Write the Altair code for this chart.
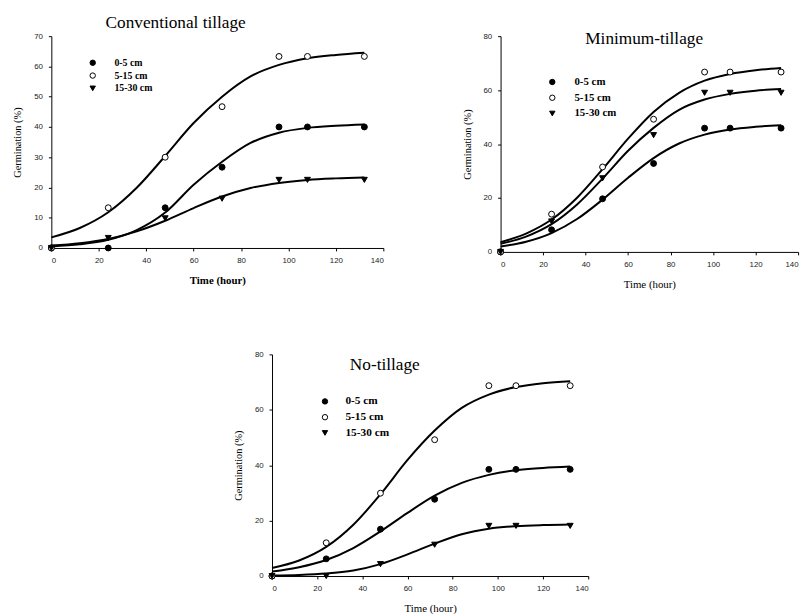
import altair as alt
import pandas as pd

# ---- data ----
depths = ["0-5 cm", "5-15 cm", "15-30 cm"]
times = [0, 24, 48, 72, 96, 108, 132]

# observed germination (%)
ct_0_5 = [0, 0, 13.3, 26.7, 40.0, 40.0, 40.0]
ct_5_15 = [0, 13.3, 30.0, 46.7, 63.3, 63.3, 63.3]
ct_15_30 = [0, 3.3, 9.8, 16.3, 22.5, 22.5, 22.5]

mt_0_5 = [0, 8.2, 19.7, 32.8, 45.9, 45.9, 45.9]
mt_5_15 = [0, 14.0, 31.5, 49.2, 66.7, 66.7, 66.7]
mt_15_30 = [0, 11.3, 27.3, 43.3, 59.0, 59.0, 59.0]

nt_0_5 = [0, 6.2, 16.9, 27.7, 38.5, 38.5, 38.5]
nt_5_15 = [0, 12.0, 29.9, 49.2, 68.7, 68.7, 68.7]
nt_15_30 = [0, 0, 4.3, 11.3, 18.1, 18.1, 18.1]

# fitted curves, read at 12-hour steps
curve_t = [0, 12, 24, 36, 48, 60, 72, 84, 96, 108, 120, 132]

ct_fit_0_5 = [0.5, 1.2, 2.7, 5.9, 11.7, 20.9, 28.5, 34.7, 38.1, 39.7, 40.4, 40.8]
ct_fit_5_15 = [3.5, 6.6, 11.8, 19.9, 30.4, 41.3, 50.0, 56.7, 60.5, 62.7, 63.8, 64.5]
ct_fit_15_30 = [0.8, 1.6, 3.0, 5.5, 9.0, 13.2, 17.0, 19.8, 21.5, 22.5, 23.0, 23.3]

mt_fit_0_5 = [2.0, 3.8, 7.0, 12.2, 19.4, 27.5, 34.8, 40.2, 43.5, 45.4, 46.4, 47.0]
mt_fit_5_15 = [3.6, 6.8, 12.0, 20.1, 30.7, 42.0, 51.9, 59.0, 63.5, 66.0, 67.4, 68.2]
mt_fit_15_30 = [3.0, 5.7, 10.3, 17.6, 27.2, 37.5, 46.0, 52.7, 56.5, 58.6, 59.8, 60.4]

nt_fit_0_5 = [1.6, 3.2, 5.8, 10.1, 16.1, 22.8, 29.0, 33.6, 36.5, 38.2, 39.0, 39.5]
nt_fit_5_15 = [2.9, 5.6, 10.5, 18.5, 29.5, 41.9, 52.5, 60.7, 65.5, 68.2, 69.6, 70.3]
nt_fit_15_30 = [0.2, 0.4, 0.9, 2.0, 4.3, 7.8, 11.7, 15.1, 17.1, 18.0, 18.4, 18.6]

titles = ["Conventional tillage", "Minimum-tillage", "No-tillage"]
x_ticks = [0, 20, 40, 60, 80, 100, 120, 140]

SERIF = "Liberation Serif"
SANS = "Liberation Sans"


def points_df(a, b, c):
    rows = []
    for d, vals in zip(depths, [a, b, c]):
        for t, v in zip(times, vals):
            rows.append({"t": t, "g": v, "depth": d})
    return pd.DataFrame(rows)


def fit_df(a, b, c):
    rows = []
    for d, vals in zip(depths, [a, b, c]):
        for t, v in zip(curve_t, vals):
            rows.append({"t": t, "g": v, "depth": d})
    return pd.DataFrame(rows)


def panel(pts, fits, title, ymax, ystep, w, h, xbold, leg, ttl):
    xs = alt.X("t:Q", scale=alt.Scale(domain=[0, 140], nice=False),
               axis=alt.Axis(values=x_ticks, title="Time (hour)",
                             titleFontWeight="bold" if xbold else "normal"))
    ys = alt.Y("g:Q", scale=alt.Scale(domain=[0, ymax], nice=False),
               axis=alt.Axis(values=list(range(0, ymax + 1, ystep)),
                             title="Germination (%)"))
    legend = alt.Legend(title=None, orient="none", legendX=leg[0], legendY=leg[1],
                        labelFont=SERIF, labelFontWeight="bold", labelFontSize=leg[2],
                        labelColor="black", symbolSize=30, rowPadding=leg[3],
                        labelOffset=leg[4], symbolStrokeWidth=1, padding=0)
    lines = alt.Chart(fits).mark_line(color="black", strokeWidth=2,
                                      interpolate="monotone").encode(
        x=xs, y=ys, detail="depth:N")
    pts_layer = alt.Chart(pts).mark_point(size=36, strokeWidth=1,
                                          opacity=1).encode(
        x=xs, y=ys,
        shape=alt.Shape("depth:N", sort=depths,
                        scale=alt.Scale(domain=depths,
                                        range=["circle", "circle", "triangle-down"]),
                        legend=legend),
        fill=alt.Fill("depth:N", sort=depths,
                      scale=alt.Scale(domain=depths, range=["black", "white", "black"]),
                      legend=legend),
        stroke=alt.Stroke("depth:N", sort=depths,
                          scale=alt.Scale(domain=depths, range=["black", "black", "black"]),
                          legend=legend),
    )
    return alt.layer(lines, pts_layer).properties(
        width=w, height=h,
        title=alt.TitleParams(title, anchor="start", frame="group", font=SERIF,
                              fontSize=17.5, fontWeight="normal", color="black",
                              offset=ttl[1], dx=ttl[0], dy=ttl[2]))


p1 = panel(points_df(ct_0_5, ct_5_15, ct_15_30),
           fit_df(ct_fit_0_5, ct_fit_5_15, ct_fit_15_30),
           titles[0], 70, 10, 337, 215, True, (37, 22, 10, 3, 17), (55, 1, 0))
p2 = panel(points_df(mt_0_5, mt_5_15, mt_15_30),
           fit_df(mt_fit_0_5, mt_fit_5_15, mt_fit_15_30),
           titles[1], 80, 20, 302, 219, False, (47, 41, 11, 4, 17), (86, 0, 15))
p3 = panel(points_df(nt_0_5, nt_5_15, nt_15_30),
           fit_df(nt_fit_0_5, nt_fit_5_15, nt_fit_15_30),
           titles[2], 80, 20, 321, 225, False, (48, 42, 11.5, 3, 15), (79, 0, 23))

spacer = alt.Chart(pd.DataFrame({"s": [0]})).mark_point(opacity=0).encode(
    x=alt.X("s:Q", axis=None), y=alt.Y("s:Q", axis=None)
).properties(width=224, height=10)

indep = dict(shape="independent", fill="independent", stroke="independent")

row1 = alt.hconcat(p1, p2, spacing=119, bounds="flush").resolve_scale(**indep)
row2 = alt.hconcat(spacer, p3, spacing=0, bounds="flush").resolve_scale(**indep)

chart = alt.vconcat(row1, row2, spacing=62).resolve_scale(**indep).properties(
    padding={"left": 5, "top": 1, "right": 5, "bottom": 0}
).configure_view(
    stroke=None
).configure_axis(
    domainColor="black", domainWidth=1, tickColor="black", tickSize=3,
    labelFont=SANS, labelFontSize=8, labelColor="#222", labelPadding=6,
    titleFont=SERIF, titleFontSize=11, titleColor="black", titleFontWeight="normal",
    grid=False,
).configure_axisX(titlePadding=10).configure_axisY(titlePadding=11, titleFontSize=10.5)

chart.save("out.html", embed_options={"renderer": "svg", "actions": False})
